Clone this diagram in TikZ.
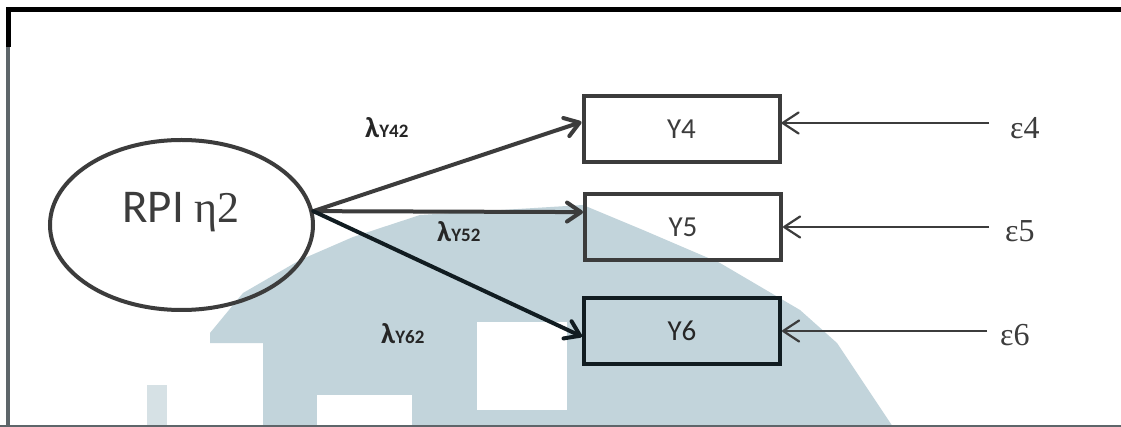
\documentclass[tikz,border=0pt]{standalone}
\usepackage{fontspec}
\usetikzlibrary{arrows.meta,shapes.geometric,calc}
\newfontfamily\calib{Carlito}
\newfontfamily\tms{Liberation Serif}
\definecolor{ink}{HTML}{3C3C3C}
\definecolor{deep}{HTML}{111C21}
\definecolor{wm}{RGB}{194,212,219}
\definecolor{wmlight}{RGB}{214,225,229}
\definecolor{rule}{HTML}{5E666A}
\tikzset{
  latent/.style={ellipse, draw=ink, line width=4pt, minimum width=263pt,
    minimum height=170pt, inner sep=0pt},
  obsbox/.style={rectangle, draw=ink, line width=4pt, minimum width=196pt,
    minimum height=66pt, inner sep=0pt, text=ink,
    font=\calib\fontsize{29}{29}\selectfont},
  load/.style={draw=ink, line width=4pt, line cap=round,
    -{Straight Barb[length=14pt,width=19pt,round]}},
  errarrow/.style={draw=ink, line width=2.2pt,
    -{Straight Barb[length=16pt,width=21pt,round]}},
  lam/.style={anchor=base west, inner sep=0pt, text=black!85,
    font=\calib\bfseries\fontsize{29}{29}\selectfont},
  errlabel/.style={anchor=base west, inner sep=0pt, text=ink,
    font=\tms\fontsize{32}{32}\selectfont}
}
\newcommand{\lamsub}[1]{λ{\fontsize{19}{19}\selectfont #1}}
\begin{document}
\begin{tikzpicture}[x=1pt, y=-1pt]
\useasboundingbox (0,0) rectangle (1121,427);
\fill[white] (0,0) rectangle (1121,427);

% background emblem
\fill[wm] (263,427) -- (263,343) -- (210,343) -- (210,333) -- (243,293)
  -- (300,260) -- (353,237) -- (420,215) -- (583,205) -- (643,230)
  -- (720,263) -- (800,310) -- (837,343) -- (865,385) -- (893,427) -- cycle;
\fill[white] (477,322) rectangle (567,410);
\fill[white] (317,395) rectangle (412,427);
\fill[wmlight] (147,385) rectangle (167,427);

% frame
\draw[rule, line width=2pt] (0,426) -- (1121,426);
\draw[rule, line width=3.5pt] (8,45) -- (8,427);
\draw[black, line width=5pt] (8,47) -- (8,9.5) -- (1121,9.5);

% latent variable
\node[latent] (eta) at (181.5,225) {};
\node[anchor=base west, inner sep=0pt, text=ink] (etatext) at (122,223)
  {\calib\fontsize{47}{47}\selectfont RPI {\tms\fontsize{44}{44}\selectfont η2}};

% indicators
\node[obsbox] (Y4) at (681.5,129) {Y4};
\node[obsbox] (Y5) at (683,227.5) {Y5};
\node[obsbox, draw=deep, text=black!85] (Y6) at (682,331) {Y6};

% loadings
\draw[load] (eta.6) -- ($(Y4.north west)!0.40!(Y4.south west)$);
\draw[load] (eta.6) -- ($(Y5.north west)!0.28!(Y5.south west)$);
\draw[load, draw=deep] (eta.6) -- ($(Y6.north west)!0.58!(Y6.south west)$);

\node[lam] (l4) at (365,138) {\lamsub{Y42}};
\node[lam] (l5) at (437,242) {\lamsub{Y52}};
\node[lam] (l6) at (381,344) {\lamsub{Y62}};

% error terms
\node[errlabel] (e4) at (1010,139) {ε4};
\node[errlabel] (e5) at (1005,242) {ε5};
\node[errlabel] (e6) at (1000,345) {ε6};
\coordinate (t4) at (989,123);
\coordinate (t5) at (989,227);
\coordinate (t6) at (987,331);
\draw[errarrow] (t4) -- (t4 -| Y4.east);
\draw[errarrow] (t5) -- (t5 -| Y5.east);
\draw[errarrow] (t6) -- (t6 -| Y6.east);
\end{tikzpicture}
\end{document}
